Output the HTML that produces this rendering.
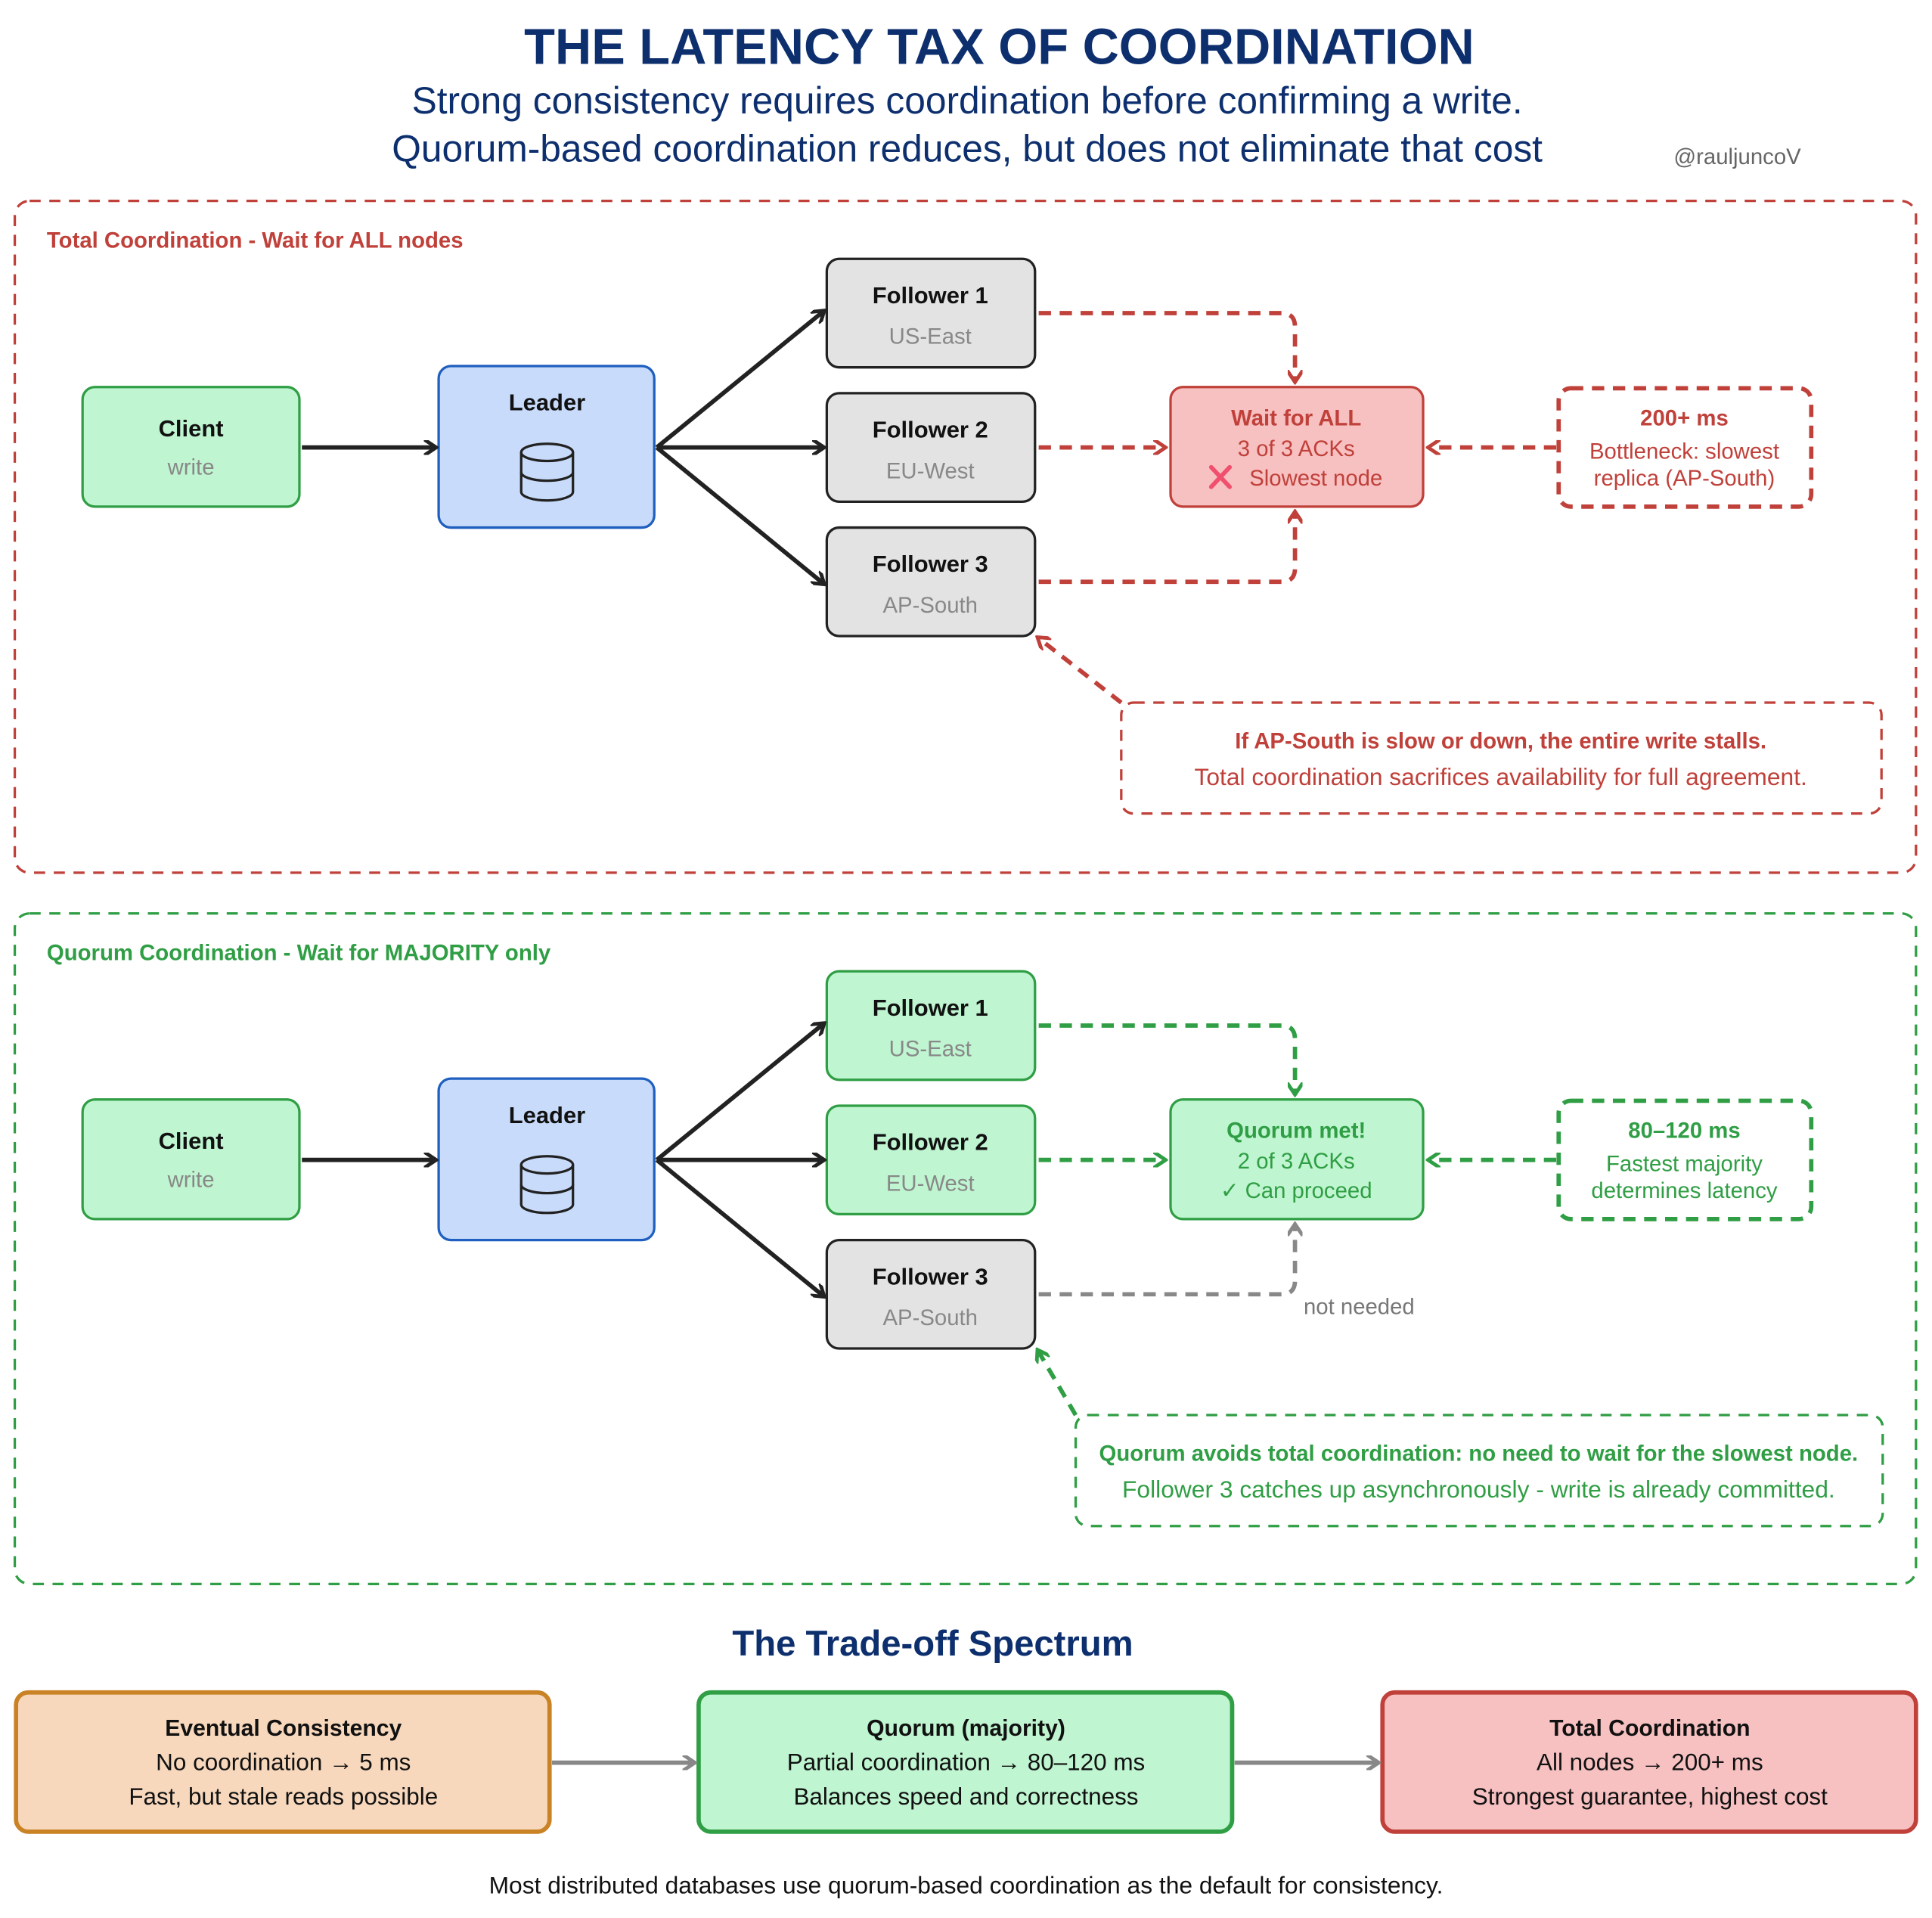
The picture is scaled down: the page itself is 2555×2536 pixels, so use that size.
<!DOCTYPE html>
<html><head><meta charset="utf-8"><style>
html,body{margin:0;padding:0;background:#fff;}
svg{display:block;}
text{font-family:"Liberation Sans",sans-serif;}
</style></head><body>
<svg width="2555" height="2536" viewBox="0 0 1568 1556" preserveAspectRatio="none" xmlns="http://www.w3.org/2000/svg">
<defs>
<marker id="ak" markerWidth="12" markerHeight="12" refX="10" refY="6" orient="auto" markerUnits="userSpaceOnUse"><path d="M1,0 L10,6 L1,12" fill="none" stroke="#222" stroke-width="3" stroke-linecap="round"/></marker>
<marker id="ar" markerWidth="12" markerHeight="12" refX="10" refY="6" orient="auto" markerUnits="userSpaceOnUse"><path d="M1,0 L10,6 L1,12" fill="none" stroke="#c0403a" stroke-width="3" stroke-linecap="round"/></marker>
<marker id="ag" markerWidth="12" markerHeight="12" refX="10" refY="6" orient="auto" markerUnits="userSpaceOnUse"><path d="M1,0 L10,6 L1,12" fill="none" stroke="#2f9e44" stroke-width="3" stroke-linecap="round"/></marker>
<marker id="ay" markerWidth="12" markerHeight="12" refX="10" refY="6" orient="auto" markerUnits="userSpaceOnUse"><path d="M1,0 L10,6 L1,12" fill="none" stroke="#888" stroke-width="3" stroke-linecap="round"/></marker>
</defs>

<text x="811" y="52" text-anchor="middle" font-size="41" font-weight="bold" fill="#0d2f6e">THE LATENCY TAX OF COORDINATION</text>
<text x="785" y="92" text-anchor="middle" font-size="30.5" fill="#0d2f6e">Strong consistency requires coordination before confirming a write.</text>
<text x="785" y="131" text-anchor="middle" font-size="30.5" fill="#0d2f6e">Quorum-based coordination reduces, but does not eliminate that cost</text>
<text x="1410" y="133" text-anchor="middle" font-size="18" fill="#666">@rauljuncoV</text>

<!-- RED PANEL -->
<rect x="12" y="163" width="1543" height="545" rx="12" fill="none" stroke="#c0403a" stroke-width="2" stroke-dasharray="9,7"/>
<text x="38" y="201" font-size="18" font-weight="bold" fill="#c0403a">Total Coordination - Wait for ALL nodes</text>
<g>
<rect x="67" y="314" width="176" height="97" rx="10" fill="#bff5d0" stroke="#2f9e44" stroke-width="2"/>
<text x="155" y="354" text-anchor="middle" font-size="19" font-weight="bold" fill="#111">Client</text>
<text x="155" y="385" text-anchor="middle" font-size="18" fill="#888">write</text>
<rect x="356" y="297" width="175" height="131" rx="10" fill="#c8dbfa" stroke="#1f5fbf" stroke-width="2"/>
<text x="444" y="333" text-anchor="middle" font-size="19" font-weight="bold" fill="#111">Leader</text>
<g fill="none" stroke="#222" stroke-width="2"><ellipse cx="444" cy="367" rx="21" ry="7"/><path d="M423,367 V399 A21,7 0 0 0 465,399 V367"/><path d="M423,383 A21,7 0 0 0 465,383"/></g>
<g stroke="#222" stroke-width="2" fill="#e3e3e3">
<rect x="671" y="210" width="169" height="88" rx="10"/><rect x="671" y="319" width="169" height="88" rx="10"/><rect x="671" y="428" width="169" height="88" rx="10"/></g>
<g text-anchor="middle" font-size="19"><text x="755" y="246" font-weight="bold" fill="#111">Follower 1</text><text x="755" y="279" fill="#888" font-size="18">US-East</text>
<text x="755" y="355" font-weight="bold" fill="#111">Follower 2</text><text x="755" y="388" fill="#888" font-size="18">EU-West</text>
<text x="755" y="464" font-weight="bold" fill="#111">Follower 3</text><text x="755" y="497" fill="#888" font-size="18">AP-South</text></g>
<g stroke="#222" stroke-width="3.5" fill="none" marker-end="url(#ak)"><line x1="245" y1="363" x2="354" y2="363"/><line x1="533" y1="363" x2="669" y2="252"/><line x1="533" y1="363" x2="669" y2="363"/><line x1="533" y1="363" x2="669" y2="474"/></g>
<rect x="950" y="314" width="205" height="97" rx="10" fill="#f7c0c1" stroke="#c0403a" stroke-width="2"/>
<g text-anchor="middle" font-size="18" fill="#c0403a"><text x="1052" y="345" font-weight="bold">Wait for ALL</text><text x="1052" y="370">3 of 3 ACKs</text><text x="1068" y="394">Slowest node</text></g>
<path d="M983,379 L998,395 M998,379 L983,395" stroke="#f0506e" stroke-width="3.5" stroke-linecap="round"/>
<g stroke="#c0403a" stroke-width="3.5" fill="none" stroke-dasharray="10,7">
<path d="M843,254 H1040 Q1051,254 1051,265 V310" marker-end="url(#ar)"/>
<path d="M843,363 H946" marker-end="url(#ar)"/>
<path d="M843,472 H1040 Q1051,472 1051,461 V415" marker-end="url(#ar)"/>
<path d="M1263,363 H1159" marker-end="url(#ar)"/>
<path d="M910,570 L842,517" marker-end="url(#ar)"/>
</g>
<rect x="1265" y="315" width="205" height="96" rx="10" fill="none" stroke="#c0403a" stroke-width="3.5" stroke-dasharray="10,7"/>
<g text-anchor="middle" font-size="18" fill="#c0403a"><text x="1367" y="345" font-weight="bold">200+ ms</text><text x="1367" y="372">Bottleneck: slowest</text><text x="1367" y="394">replica (AP-South)</text></g>
<rect x="910" y="570" width="617" height="90" rx="10" fill="none" stroke="#c0403a" stroke-width="2" stroke-dasharray="9,7"/>
<text x="1218" y="607" text-anchor="middle" font-size="18" font-weight="bold" fill="#c0403a">If AP-South is slow or down, the entire write stalls.</text>
<text x="1218" y="637" text-anchor="middle" font-size="19.5" fill="#c0403a">Total coordination sacrifices availability for full agreement.</text>
</g>

<!-- GREEN PANEL -->
<g transform="translate(0,578)">
<rect x="12" y="163" width="1543" height="544" rx="12" fill="none" stroke="#2f9e44" stroke-width="2" stroke-dasharray="9,7"/>
<text x="38" y="201" font-size="18" font-weight="bold" fill="#2f9e44">Quorum Coordination - Wait for MAJORITY only</text>
<rect x="67" y="314" width="176" height="97" rx="10" fill="#bff5d0" stroke="#2f9e44" stroke-width="2"/>
<text x="155" y="354" text-anchor="middle" font-size="19" font-weight="bold" fill="#111">Client</text>
<text x="155" y="385" text-anchor="middle" font-size="18" fill="#888">write</text>
<rect x="356" y="297" width="175" height="131" rx="10" fill="#c8dbfa" stroke="#1f5fbf" stroke-width="2"/>
<text x="444" y="333" text-anchor="middle" font-size="19" font-weight="bold" fill="#111">Leader</text>
<g fill="none" stroke="#222" stroke-width="2"><ellipse cx="444" cy="367" rx="21" ry="7"/><path d="M423,367 V399 A21,7 0 0 0 465,399 V367"/><path d="M423,383 A21,7 0 0 0 465,383"/></g>
<g stroke-width="2">
<rect x="671" y="210" width="169" height="88" rx="10" fill="#bff5d0" stroke="#2f9e44"/><rect x="671" y="319" width="169" height="88" rx="10" fill="#bff5d0" stroke="#2f9e44"/><rect x="671" y="428" width="169" height="88" rx="10" fill="#e3e3e3" stroke="#222"/></g>
<g text-anchor="middle" font-size="19"><text x="755" y="246" font-weight="bold" fill="#111">Follower 1</text><text x="755" y="279" fill="#888" font-size="18">US-East</text>
<text x="755" y="355" font-weight="bold" fill="#111">Follower 2</text><text x="755" y="388" fill="#888" font-size="18">EU-West</text>
<text x="755" y="464" font-weight="bold" fill="#111">Follower 3</text><text x="755" y="497" fill="#888" font-size="18">AP-South</text></g>
<g stroke="#222" stroke-width="3.5" fill="none" marker-end="url(#ak)"><line x1="245" y1="363" x2="354" y2="363"/><line x1="533" y1="363" x2="669" y2="252"/><line x1="533" y1="363" x2="669" y2="363"/><line x1="533" y1="363" x2="669" y2="474"/></g>
<rect x="950" y="314" width="205" height="97" rx="10" fill="#bff5d0" stroke="#2f9e44" stroke-width="2"/>
<g text-anchor="middle" font-size="18" fill="#2f9e44"><text x="1052" y="345" font-weight="bold">Quorum met!</text><text x="1052" y="370">2 of 3 ACKs</text><text x="1052" y="394">✓ Can proceed</text></g>
<g stroke="#2f9e44" stroke-width="3.5" fill="none" stroke-dasharray="10,7">
<path d="M843,254 H1040 Q1051,254 1051,265 V310" marker-end="url(#ag)"/>
<path d="M843,363 H946" marker-end="url(#ag)"/>
<path d="M1263,363 H1159" marker-end="url(#ag)"/>
<path d="M873,570 L842,517" marker-end="url(#ag)"/>
</g>
<path d="M843,472 H1040 Q1051,472 1051,461 V415" stroke="#888" stroke-width="3.5" fill="none" stroke-dasharray="10,7" marker-end="url(#ay)"/>
<text x="1058" y="488" font-size="18" fill="#777">not needed</text>
<rect x="1265" y="315" width="205" height="96" rx="10" fill="none" stroke="#2f9e44" stroke-width="3.5" stroke-dasharray="10,7"/>
<g text-anchor="middle" font-size="18" fill="#2f9e44"><text x="1367" y="345" font-weight="bold">80–120 ms</text><text x="1367" y="372">Fastest majority</text><text x="1367" y="394">determines latency</text></g>
<rect x="873" y="570" width="655" height="90" rx="10" fill="none" stroke="#2f9e44" stroke-width="2" stroke-dasharray="9,7"/>
<text x="1200" y="607" text-anchor="middle" font-size="18" font-weight="bold" fill="#2f9e44">Quorum avoids total coordination: no need to wait for the slowest node.</text>
<text x="1200" y="637" text-anchor="middle" font-size="19.5" fill="#2f9e44">Follower 3 catches up asynchronously - write is already committed.</text>
</g>

<!-- SPECTRUM -->
<text x="757" y="1343" text-anchor="middle" font-size="29" font-weight="bold" fill="#0d2f6e">The Trade-off Spectrum</text>
<rect x="13" y="1373" width="433" height="113" rx="10" fill="#f7d8bd" stroke="#c98224" stroke-width="3.5"/>
<rect x="567" y="1373" width="433" height="113" rx="10" fill="#bff5d0" stroke="#2f9e44" stroke-width="3.5"/>
<rect x="1122" y="1373" width="433" height="113" rx="10" fill="#f7c0c1" stroke="#c0403a" stroke-width="3.5"/>
<g text-anchor="middle" font-size="19.3" fill="#111">
<text x="230" y="1408" font-weight="bold" font-size="18.5">Eventual Consistency</text><text x="230" y="1436">No coordination → 5 ms</text><text x="230" y="1464">Fast, but stale reads possible</text>
<text x="784" y="1408" font-weight="bold" font-size="18.5">Quorum (majority)</text><text x="784" y="1436">Partial coordination → 80–120 ms</text><text x="784" y="1464">Balances speed and correctness</text>
<text x="1339" y="1408" font-weight="bold" font-size="18.5">Total Coordination</text><text x="1339" y="1436">All nodes → 200+ ms</text><text x="1339" y="1464">Strongest guarantee, highest cost</text>
</g>
<g stroke="#888" stroke-width="3.5" fill="none" marker-end="url(#ay)"><line x1="448" y1="1430" x2="564" y2="1430"/><line x1="1002" y1="1430" x2="1119" y2="1430"/></g>
<text x="784" y="1536" text-anchor="middle" font-size="19.5" fill="#111">Most distributed databases use quorum-based coordination as the default for consistency.</text>
</svg>
</body></html>
